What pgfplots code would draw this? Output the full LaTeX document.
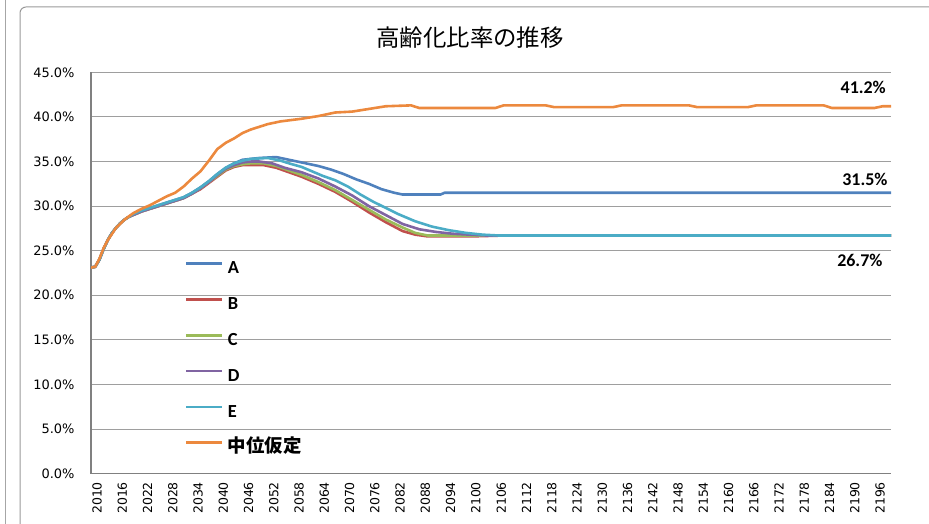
\documentclass[border=0pt]{standalone}
\usepackage{pgfplots}
\pgfplotsset{compat=1.18}
\usepackage{fontspec}
\setmainfont{Carlito}
\newfontfamily\tickfont{DejaVu Sans}
\newfontfamily\jp{Noto Sans CJK JP}
\definecolor{cA}{HTML}{4F81BD}
\definecolor{cB}{HTML}{C0504D}
\definecolor{cC}{HTML}{9BBB59}
\definecolor{cD}{HTML}{8064A2}
\definecolor{cE}{HTML}{4BACC6}
\definecolor{cM}{HTML}{EC893E}
\begin{document}
\begin{tikzpicture}[x=1bp,y=1bp]
\path[use as bounding box] (0,0) rectangle (929,524);
\draw[black!35, line width=1bp] (5,-5) -- (5,530);
\draw[black!40, line width=1bp, rounded corners=6bp] (20,-20) -- (20,517) -- (945,517);
\node[font=\jp\fontsize{23.5}{26}\selectfont] at (470,486) {高齢化比率の推移};
\begin{axis}[
  at={(91bp,50.4bp)}, anchor=south west,
  width=800bp, height=401.2bp, scale only axis,
  xmin=2010, xmax=2200, ymin=0, ymax=45,
  xtick={2010,2016,...,2196},
  ytick={0,5,...,45},
  ymajorgrids, grid style={draw=black!38, line width=1bp},
  axis x line*=bottom, axis y line*=left,
  axis line style={draw=black!50, line width=1.2bp, -},
  major tick length=0pt,
  /pgf/number format/assume math mode=true,
  /pgf/number format/1000 sep={},
  xticklabel style={rotate=90, anchor=east, font=\tickfont\fontsize{12.5}{14}\selectfont, xshift=-5bp, yshift=-6bp},
  yticklabel style={font=\tickfont\fontsize{13}{15}\selectfont, xshift=-13bp},
  yticklabel={\pgfmathprintnumber[fixed,fixed zerofill,precision=1]{\tick}\%},
  every axis plot/.append style={line width=2.6bp, line join=round},
  legend cell align=left,
  legend image code/.code={\draw[#1] (0bp,5.8bp) -- (36bp,5.8bp);},
  legend style={at={(0.1175,0.528)}, anchor=north west, draw=none, fill=none,
    inner xsep=0pt, inner ysep=0pt, row sep=20.8bp, column sep=3bp,
    font=\bfseries\fontsize{18.5}{20}\selectfont,
    nodes={text height=12bp, text depth=3bp, inner sep=0pt, inner xsep=1bp}},
]
\addplot[cA] coordinates {(2010,23.1)(2011,23.2)(2012,24.0)(2013,25.2)(2014,26.2)(2015,27.0)(2016,27.6)(2017,28.1)(2018,28.5)(2019,28.8)(2020,29.1)(2022,29.5)(2024,29.8)(2026,30.1)(2028,30.4)(2030,30.7)(2032,31.0)(2034,31.5)(2036,32.1)(2038,32.8)(2040,33.6)(2042,34.3)(2044,34.8)(2046,35.2)(2048,35.3)(2050,35.4)(2054,35.5)(2056,35.3)(2058,35.1)(2061,34.8)(2064,34.5)(2067,34.1)(2070,33.6)(2073,33.0)(2076,32.5)(2079,31.9)(2082,31.5)(2084,31.3)(2093,31.3)(2094,31.5)(2200,31.5)};
\addlegendentry{A}
\addplot[cB] coordinates {(2010,23.1)(2011,23.2)(2012,24.0)(2013,25.2)(2014,26.2)(2015,27.0)(2016,27.6)(2017,28.1)(2018,28.5)(2019,28.8)(2020,29.0)(2022,29.4)(2024,29.7)(2026,30.0)(2028,30.3)(2030,30.6)(2032,30.9)(2034,31.4)(2036,31.9)(2038,32.6)(2040,33.3)(2042,34.0)(2044,34.4)(2046,34.6)(2048,34.6)(2051,34.6)(2054,34.3)(2057,33.8)(2060,33.3)(2064,32.5)(2068,31.6)(2072,30.5)(2076,29.3)(2080,28.2)(2084,27.2)(2087,26.8)(2090,26.6)(2100,26.6)(2108,26.7)(2200,26.7)};
\addlegendentry{B}
\addplot[cC] coordinates {(2010,23.1)(2011,23.2)(2012,24.0)(2013,25.2)(2014,26.2)(2015,27.0)(2016,27.6)(2017,28.1)(2018,28.5)(2019,28.8)(2020,29.0)(2022,29.4)(2024,29.7)(2026,30.0)(2028,30.3)(2030,30.6)(2032,30.9)(2034,31.4)(2036,32.0)(2038,32.7)(2040,33.4)(2042,34.1)(2044,34.5)(2046,34.7)(2048,34.8)(2051,34.8)(2054,34.5)(2057,34.0)(2060,33.5)(2064,32.7)(2068,31.8)(2072,30.7)(2076,29.6)(2080,28.5)(2084,27.6)(2087,27.0)(2090,26.7)(2200,26.7)};
\addlegendentry{C}
\addplot[cD] coordinates {(2010,23.1)(2011,23.2)(2012,24.0)(2013,25.2)(2014,26.2)(2015,27.0)(2016,27.6)(2017,28.1)(2018,28.5)(2019,28.8)(2020,29.0)(2022,29.4)(2024,29.7)(2026,30.0)(2028,30.3)(2030,30.6)(2032,30.9)(2034,31.4)(2036,32.0)(2038,32.7)(2040,33.5)(2042,34.2)(2044,34.6)(2046,34.9)(2048,35.0)(2050,35.0)(2053,34.8)(2056,34.3)(2060,33.8)(2064,33.1)(2068,32.2)(2072,31.2)(2076,30.0)(2080,29.0)(2084,28.0)(2088,27.4)(2092,27.1)(2096,26.9)(2100,26.8)(2104,26.7)(2200,26.7)};
\addlegendentry{D}
\addplot[cE] coordinates {(2010,23.1)(2011,23.2)(2012,24.0)(2013,25.2)(2014,26.2)(2015,27.0)(2016,27.6)(2017,28.1)(2018,28.5)(2019,28.8)(2020,29.1)(2022,29.5)(2024,29.8)(2026,30.1)(2028,30.4)(2030,30.7)(2032,31.0)(2034,31.5)(2036,32.1)(2038,32.8)(2040,33.6)(2042,34.3)(2044,34.8)(2046,35.1)(2048,35.3)(2052,35.4)(2055,35.1)(2057,34.8)(2060,34.4)(2065,33.4)(2068,32.9)(2071,32.2)(2074,31.3)(2077,30.5)(2080,29.8)(2083,29.1)(2087,28.3)(2091,27.7)(2095,27.3)(2099,27.0)(2103,26.8)(2107,26.7)(2200,26.7)};
\addlegendentry{E}
\addplot[cM] coordinates {(2010,23.1)(2011,23.2)(2012,24.1)(2013,25.3)(2014,26.2)(2016,27.6)(2018,28.5)(2020,29.2)(2022,29.7)(2024,30.1)(2026,30.6)(2028,31.1)(2030,31.5)(2032,32.2)(2034,33.1)(2036,33.9)(2038,35.1)(2040,36.4)(2042,37.1)(2044,37.6)(2046,38.2)(2048,38.6)(2050,38.9)(2052,39.2)(2055,39.5)(2060,39.8)(2064,40.1)(2068,40.5)(2072,40.6)(2076,40.9)(2080,41.2)(2086,41.3)(2088,41.0)(2106,41.0)(2108,41.3)(2118,41.3)(2120,41.1)(2134,41.1)(2136,41.3)(2152,41.3)(2154,41.1)(2166,41.1)(2168,41.3)(2184,41.3)(2186,41.0)(2196,41.0)(2198,41.2)(2200,41.2)};
\addlegendentry{\jp\bfseries 中位仮定}
\node[font=\bfseries\fontsize{18}{20}\selectfont] at (axis cs:2193.4,43.3) {41.2\%};
\node[font=\bfseries\fontsize{18}{20}\selectfont] at (axis cs:2193.8,33.0) {31.5\%};
\node[font=\bfseries\fontsize{18}{20}\selectfont] at (axis cs:2192.6,23.9) {26.7\%};
\end{axis}
\end{tikzpicture}
\end{document}
